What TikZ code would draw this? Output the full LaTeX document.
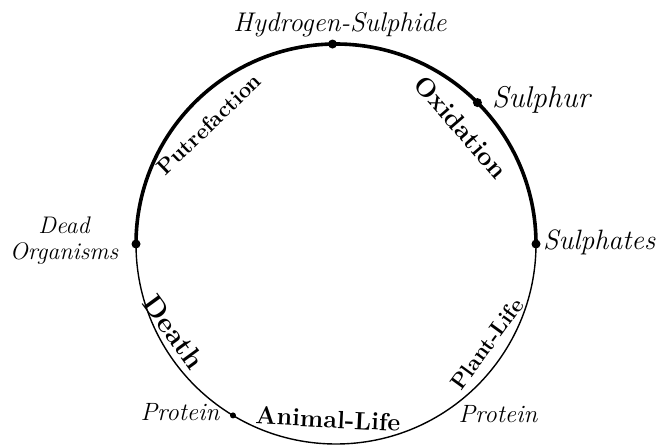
\documentclass[tikz,border=0pt]{standalone}
\usepackage{tikz}
\usetikzlibrary{positioning,calc}

\begin{document}
\begin{tikzpicture}[x=1pt,y=1pt,every node/.style={inner sep=1pt},
    stage/.style={font=\fontsize{#1}{#1}\selectfont\itshape},
    stage/.default=26,
    process/.style={font=\fontsize{#1}{#1}\selectfont\bfseries},
    process/.default=24,
    dot/.style={circle,fill=black,inner sep=0pt,minimum size=9pt}]
      \useasboundingbox (0,0) rectangle (661,445);
      \coordinate (c) at (336,201);
      % Upper half of the cycle (heavy line)
      \draw[line width=3.6pt] ($(c)+(180:200)$) arc[start angle=180,end angle=0,radius=200pt];
      % Lower half of the cycle (light line)
      \draw[line width=1.4pt] ($(c)+(0:200)$) arc[start angle=0,end angle=-180,radius=200pt];
      % Points of the cycle
      \node[dot] (hs) at ($(c)+(91:200)$) {};
      \node[dot] (sul) at ($(c)+(45:200)$) {};
      \node[dot] (sat) at ($(c)+(0:200)$) {};
      \node[dot] (dead) at ($(c)+(180:200)$) {};
      \node[dot,minimum size=6pt] (prot) at ($(c)+(239:200)$) {};
      % Substances
      \node[stage=27] (hslbl) at (340,420) {Hydrogen-Sulphide};
      \node[stage=30,anchor=west] (sullbl) at (491,345) {Sulphur};
      \node[stage=28,anchor=west] (satlbl) at (542,203) {Sulphates};
      \node[stage=24,align=center] (deadlbl) at (64,204) {Dead\\[2pt]Organisms};
      \node[stage=25] (protl) at (180,33) {Protein};
      \node[stage=25] (protr) at (498,31) {Protein};
      % Processes along the circle
      \node[process=22,rotate=44] (putr) at (209,321) {Putrefaction};
      \node[process=26,rotate=-49] (oxid) at (461,318) {Oxidation};
      \node[process=28,rotate=-54] (death) at (174,113) {Death};
      \node[process=22,rotate=54] (plant) at (487,101) {Plant-Life};
      \node[process=25,rotate=-3] (animal) at (328,26) {Animal-Life};
    \end{tikzpicture}
\end{document}
